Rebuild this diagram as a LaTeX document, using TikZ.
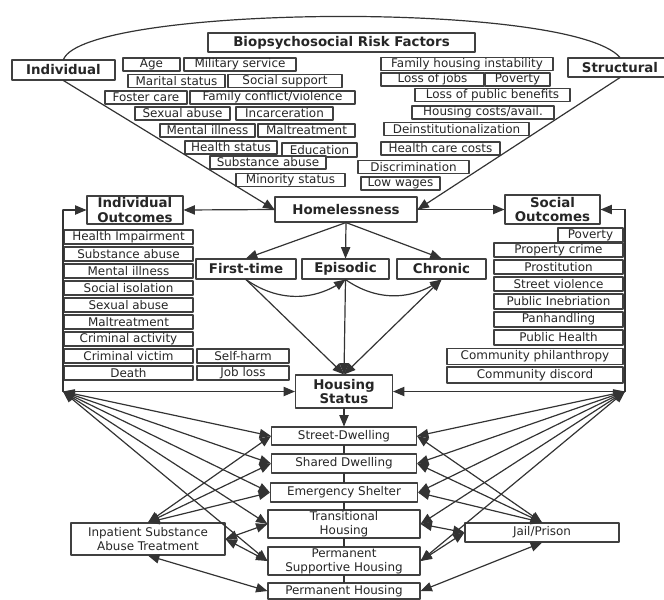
\documentclass[tikz,border=0pt]{standalone}
\usepackage{fontspec}
\setmainfont{DejaVu Sans}
\usepackage{tikz}
\usetikzlibrary{arrows}

\begin{document}
\begin{tikzpicture}[line cap=round,line join=round,>=triangle 45,x=0.025cm,y=-0.025cm,
box/.style={draw=black!75,fill=white,line width=0.8pt,inner sep=0pt,align=center,text=black!85,font=\fontsize{8.5}{10}\selectfont,minimum height=13*0.025cm},
hbox/.style={box,font=\fontsize{9.5}{10.5}\selectfont\bfseries},
wd/.style={minimum width=#1*0.025cm},
ht/.style={minimum height=#1*0.025cm},
link/.style={line width=0.85pt,draw=black!80}]
\useasboundingbox (0,0) rectangle (664,599);
\clip (0,0) rectangle (664,599);
\node[hbox,wd=267,ht=19] (risk) at (341.5,42.5) {Biopsychosocial Risk Factors};
\node[hbox,wd=103,ht=20] (indiv) at (63.5,70) {Individual};
\node[hbox,wd=104,ht=19] (struct) at (620,67.5) {Structural};
\node[box,wd=57] (age) at (151.5,64.5) {Age};
\node[box,wd=112] (milit) at (240,64.5) {Military service};
\node[box,wd=97] (marital) at (176.5,81) {Marital status};
\node[box,wd=114] (support) at (285,81) {Social support};
\node[box,wd=82] (foster) at (146,97.5) {Foster care};
\node[box,wd=165] (conflict) at (272.5,97.5) {Family conflict/violence};
\node[box,wd=95] (sexab) at (182.5,113.5) {Sexual abuse};
\node[box,wd=97] (incarc) at (284.5,113.5) {Incarceration};
\node[box,wd=95] (mental) at (207.5,130.5) {Mental illness};
\node[box,wd=97] (maltreat) at (306.5,130.5) {Maltreatment};
\node[box,wd=92] (hstatus) at (231,147.5) {Health status};
\node[box,wd=75,ht=14] (educ) at (319.5,150) {Education};
\node[box,wd=116] (subst) at (268,162.5) {Substance abuse};
\node[box,wd=109] (minority) at (290.5,180) {Minority status};
\node[box,wd=172] (famhous) at (467,64) {Family housing instability};
\node[box,wd=103] (lossjobs) at (432.5,79.5) {Loss of jobs};
\node[box,wd=65] (poverty) at (517.5,79.5) {Poverty};
\node[box,wd=155] (benefits) at (492.5,95) {Loss of public benefits};
\node[box,wd=142] (costs) at (483,112.5) {Housing costs/avail.};
\node[box,wd=145] (deinst) at (456.5,129) {Deinstitutionalization};
\node[box,wd=119] (hcare) at (440.5,148.5) {Health care costs};
\node[box,wd=111] (discrim) at (413.5,167) {Discrimination};
\node[box,wd=79] (wages) at (400.5,183.5) {Low wages};
\node[hbox,wd=142,ht=25] (home) at (346,209.5) {Homelessness};
\node[hbox,wd=96,ht=28] (indout) at (135,210) {Individual\\Outcomes};
\node[hbox,wd=95,ht=29] (socout) at (552.5,209.5) {Social\\Outcomes};
\node[box,wd=129,ht=14] (impair) at (128.5,237) {Health Impairment};
\node[box,wd=129,ht=14] (osubst) at (128.5,254) {Substance abuse};
\node[box,wd=129,ht=14] (omental) at (128.5,271) {Mental illness};
\node[box,wd=129,ht=14] (isol) at (128.5,288) {Social isolation};
\node[box,wd=129,ht=14] (osexab) at (128.5,305) {Sexual abuse};
\node[box,wd=129,ht=14] (omaltreat) at (128.5,322) {Maltreatment};
\node[box,wd=129,ht=14] (crimact) at (128.5,339) {Criminal activity};
\node[box,wd=129,ht=14] (crimvic) at (128.5,356) {Criminal victim};
\node[box,wd=129,ht=14] (death) at (128.5,373) {Death};
\node[box,wd=92,ht=14] (selfharm) at (243,356) {Self-harm};
\node[box,wd=92,ht=14] (jobloss) at (243,373) {Job loss};
\node[box,wd=65,ht=14] (opoverty) at (590.5,235) {Poverty};
\node[box,wd=129,ht=14] (property) at (558.5,250) {Property crime};
\node[box,wd=129,ht=14] (prost) at (558.5,267) {Prostitution};
\node[box,wd=129,ht=14] (violence) at (558.5,284) {Street violence};
\node[box,wd=129,ht=15] (inebr) at (558.5,301.5) {Public Inebriation};
\node[box,wd=129,ht=15] (panh) at (558.5,319.5) {Panhandling};
\node[box,wd=129,ht=15] (phealth) at (558.5,337.5) {Public Health};
\node[box,wd=176,ht=16] (philan) at (535,356.5) {Community philanthropy};
\node[box,wd=176,ht=16] (discord) at (535,375) {Community discord};
\node[hbox,wd=100,ht=20] (first) at (246,269) {First-time};
\node[hbox,wd=87,ht=20] (episodic) at (345.5,269) {Episodic};
\node[hbox,wd=89,ht=20] (chronic) at (441.5,269) {Chronic};
\node[hbox,wd=97,ht=33] (status) at (344,391.5) {Housing\\Status};
\node[box,wd=145,ht=18] (street) at (344,436) {Street-Dwelling};
\node[box,wd=145,ht=19] (shared) at (344,463.5) {Shared Dwelling};
\node[box,wd=147,ht=19] (emerg) at (344,492.5) {Emergency Shelter};
\node[box,wd=152,ht=28] (trans) at (344,524) {Transitional\\Housing};
\node[box,wd=152,ht=28] (permsup) at (344,561) {Permanent\\Supportive Housing};
\node[box,wd=152,ht=16] (perm) at (344,591) {Permanent Housing};
\node[box,wd=154,ht=32] (inpat) at (148,539) {Inpatient Substance\\Abuse Treatment};
\node[box,wd=154,ht=19] (jail) at (542,532.5) {Jail/Prison};
\coordinate (tl) at (63,210);
\coordinate (cl) at (63,391.5);
\coordinate (tr) at (625,209.5);
\coordinate (cr) at (625,391.5);
\draw[link] (indiv.north) .. controls (85,5) and (570,0) .. (struct.north);
\draw[link,->] (indiv.south) -- (home.west);
\draw[link,->] (struct.south) -- (home.east);
\draw[link,->] (home.west) -- (indout.east);
\draw[link,->] (home.east) -- (socout.west);
\draw[link,->] (home.south) -- (first.north);
\draw[link,->] (home.south) -- (episodic.north);
\draw[link,->] (home.south) -- (chronic.north);
\draw[link,->] (first.south) to[bend right=35] (episodic.south);
\draw[link,->] (episodic.south) to[bend right=35] (chronic.south);
\draw[link,->] (first.south) -- (status.north);
\draw[link,->] (episodic.south) -- (status.north);
\draw[link,<->] (status.north) -- (chronic.south);
\draw[link] (cl) -- (tl);
\draw[link,->] (tl) -- (indout.west);
\draw[link] (cr) -- (tr);
\draw[link,->] (tr) -- (socout.east);
\draw[link,->] (cl) -- (status.west);
\draw[link,->] (cr) -- (status.east);
\draw[link,->] (status.south) -- (street.north);
\draw[link] (street.south) -- (shared.north);
\draw[link] (shared.south) -- (emerg.north);
\draw[link] (emerg.south) -- (trans.north);
\draw[link] (trans.south) -- (permsup.north);
\draw[link] (permsup.south) -- (perm.north);
\draw[link,<->] (cl) -- (street.west);
\draw[link,<->] (cl) -- (shared.west);
\draw[link,<->] (cl) -- (emerg.west);
\draw[link,<->] (cl) -- (trans.west);
\draw[link,<->] (cl) -- (permsup.west);
\draw[link,<->] (cr) -- (street.east);
\draw[link,<->] (cr) -- (shared.east);
\draw[link,<->] (cr) -- (emerg.east);
\draw[link,<->] (cr) -- (trans.east);
\draw[link,<->] (cr) -- (permsup.east);
\draw[link,<->] (inpat.north) -- (street.west);
\draw[link,<->] (inpat.north) -- (shared.west);
\draw[link,<->] (inpat.north) -- (emerg.west);
\draw[link,<->] (inpat.east) -- (trans.west);
\draw[link,<->] (inpat.east) -- (permsup.west);
\draw[link,<->] (inpat.south) -- (perm.west);
\draw[link,<->] (jail.north) -- (street.east);
\draw[link,<->] (jail.north) -- (shared.east);
\draw[link,<->] (jail.north) -- (emerg.east);
\draw[link,<->] (jail.west) -- (trans.east);
\draw[link,<->] (jail.west) -- (permsup.east);
\draw[link,<->] (jail.south) -- (perm.east);
\end{tikzpicture}
\end{document}
